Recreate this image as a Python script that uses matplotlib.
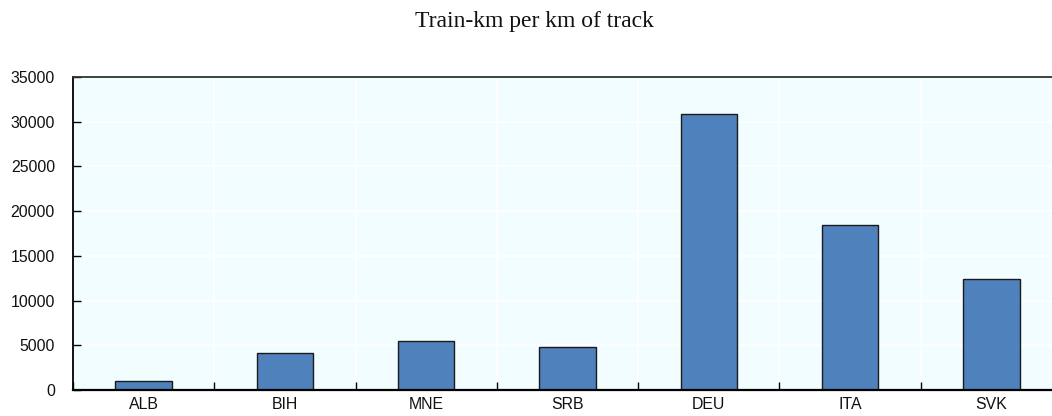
import matplotlib
matplotlib.use("Agg")
import matplotlib.pyplot as plt
import numpy as np

countries = ["ALB", "BIH", "MNE", "SRB", "DEU", "ITA", "SVK"]
train_km_per_km = [1000, 4170, 5520, 4780, 30900, 18500, 12450]
y_ticks = [0, 5000, 10000, 15000, 20000, 25000, 30000, 35000]

W, H = 1052, 416
fig = plt.figure(figsize=(W / 100, H / 100), dpi=100)
# last category runs past the right image edge in the reference
ax = fig.add_axes([73 / W, 1 - 390 / H, (1062 - 73) / W, (390 - 77) / H])
ax.set_facecolor("#F2FDFF")

x = np.arange(len(countries))
ax.bar(x, train_km_per_km, width=0.4, color="#4F81BD", edgecolor="#1a1a1a",
       linewidth=1.0, zorder=3)

ax.set_xlim(-0.5, len(countries) - 0.5)
ax.set_ylim(0, 35000)
ax.set_yticks(y_ticks)
ax.set_yticklabels([str(v) for v in y_ticks])
ax.set_xticks(x)
ax.set_xticklabels(countries)
ax.set_xticks(np.arange(len(countries) + 1) - 0.5, minor=True)

ax.grid(True, axis="y", color="white", linewidth=1.2, zorder=1)
ax.grid(True, axis="x", which="minor", color="white", linewidth=1.2, zorder=1)

font = "Liberation Sans"
ax.tick_params(axis="y", direction="in", length=6, width=1, pad=13,
               labelsize=11.4, labelcolor="#111111", labelfontfamily=font)
ax.tick_params(axis="x", which="major", length=0, pad=5,
               labelsize=11.4, labelcolor="#111111", labelfontfamily=font)
ax.tick_params(axis="x", which="minor", direction="in", length=6, width=1)

ax.spines["right"].set_visible(False)
ax.spines["bottom"].set_linewidth(1.6)
ax.spines["left"].set_linewidth(1.3)
ax.spines["top"].set_linewidth(1.3)
ax.spines["top"].set_color("#333333")
for s in ax.spines.values():
    s.set_zorder(4)

fig.text(534 / W, 1 - 21 / H, "Train-km per km of track", ha="center", va="center",
         fontsize=17, family="Liberation Serif", color="#111111")

fig.savefig("out.png", dpi=100)
